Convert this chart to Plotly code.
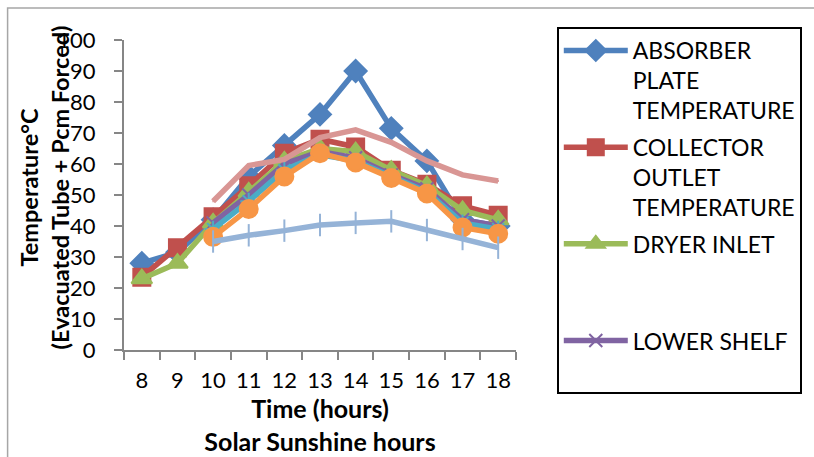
import plotly.graph_objects as go

hours = ["8", "9", "10", "11", "12", "13", "14", "15", "16", "17", "18"]

absorber_plate = [28, 31.5, 42, 56, 66, 76, 90, 71.5, 61, 42, 40]
collector_outlet = [23.5, 33, 43, 53, 63.5, 68, 65.5, 58, 53.5, 46.5, 43.5]
dryer_inlet = [23, 28, 41, 51, 61, 65, 64, 58, 53, 45, 42]
lower_shelf = [None, None, 41, 50, 60, 64, 62, 56.5, 52, 42, 40]
middle_shelf = [None, None, 39, 48, 58, 63, 61, 56, 51, 41, 39]
upper_shelf = [None, None, 36.5, 45.5, 56, 63.5, 60.5, 55.5, 50.5, 39.5, 37.5]
ambient = [None, None, 35, 37, 38.5, 40.3, 41, 41.5, 38.7, 35.8, 33]
outlet_air = [None, None, 48, 59.5, 61.5, 68.5, 71, 67, 61, 56.5, 54.5]

y_ticks = [0, 10, 20, 30, 40, 50, 60, 70, 80, 90, 100]

FONT = "Lato"
FS = 22

# plot area in pixels
L, R, T, B = 124, 518, 40, 350
W, H = 814, 457


def px_x(p):
    return (p - L) / (R - L)


def px_y(p):
    return (B - p) / (B - T)


series = [
    ("ABSORBER<br>PLATE<br>TEMPERATURE", absorber_plate, "#4F81BD", "diamond", 17, True),
    ("COLLECTOR<br>OUTLET<br>TEMPERATURE", collector_outlet, "#C0504D", "square", 17, True),
    ("DRYER INLET<br>&nbsp;<br>&nbsp;", dryer_inlet, "#9BBB59", "triangle-up", 18, True),
    ("LOWER SHELF<br>&nbsp;", lower_shelf, "#8064A2", "x-thin-open", 13, True),
    ("MIDDLE SHELF", middle_shelf, "#4BACC6", "asterisk-open", 14, False),
    ("UPPER SHELF", upper_shelf, "#F79646", "circle", 18, False),
    ("AMBIENT", ambient, "#95B3D7", "line-ns-open", 16, False),
    ("OUTLET AIR", outlet_air, "#D99694", "line-ew-open", 1, False),
]

fig = go.Figure()
for i, (name, vals, color, sym, size, show) in enumerate(series):
    fig.add_trace(go.Scatter(
        x=hours, y=vals, name=name, mode="lines+markers",
        connectgaps=False,
        line=dict(color=color, width=5.5),
        marker=dict(symbol=sym, size=size, color=color,
                    line=dict(color=color, width=2)),
        showlegend=show, legendgroup=f"g{i}",
    ))

axis_col = "#868686"
fig.update_xaxes(
    type="category", range=[-0.5, 10.5],
    showline=True, linecolor=axis_col, linewidth=2,
    ticks="outside", ticklen=8, tickwidth=2, tickcolor=axis_col,
    tickson="boundaries", showgrid=False, zeroline=False,
    tickangle=0,
    tickfont=dict(family=FONT, size=FS, color="#000"),
    ticklabelstandoff=10,
    title=dict(text="<b>Time (hours)<br>Solar Sunshine hours</b>",
               font=dict(family=FONT, size=25, color="#000"), standoff=3),
)
fig.update_yaxes(
    range=[0, 100], tickvals=y_ticks,
    showline=True, linecolor=axis_col, linewidth=2,
    ticks="outside", ticklen=8, tickwidth=2, tickcolor=axis_col,
    showgrid=False, zeroline=False,
    tickfont=dict(family=FONT, size=FS, color="#000"),
    ticklabelstandoff=14,
)

fig.add_annotation(
    text="<b>Temperature°C<br>(Evacuated Tube + Pcm Forced)</b>",
    textangle=-90, xref="paper", yref="paper",
    x=px_x(44), y=px_y(187), xanchor="center", yanchor="middle",
    showarrow=False, font=dict(family=FONT, size=23.5, color="#000"),
)

# outer chart frame
fig.add_shape(type="rect", xref="paper", yref="paper",
              x0=px_x(7), y0=px_y(W + 20), x1=px_x(W + 20), y1=px_y(8),
              line=dict(color="#A6A6A6", width=1.5), fillcolor="rgba(0,0,0,0)",
              layer="below")

fig.update_layout(
    width=W, height=H,
    margin=dict(l=L, r=W - R, t=T, b=H - B),
    paper_bgcolor="white", plot_bgcolor="white",
    font=dict(family=FONT, size=FS, color="#000"),
    legend=dict(
        x=px_x(559), y=px_y(27), xanchor="left", yanchor="top",
        bordercolor="#000", borderwidth=2, bgcolor="white",
        font=dict(family=FONT, size=23, color="#000"),
        valign="top", tracegroupgap=4, itemwidth=64,
        maxheight=420,
    ),
)

fig.write_html("out.html")
